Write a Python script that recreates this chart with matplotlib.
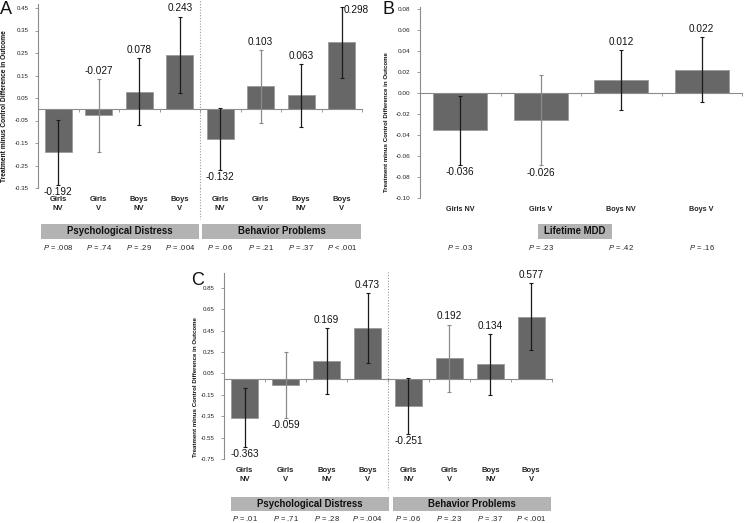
import matplotlib
matplotlib.use('Agg')
import matplotlib.pyplot as plt
from matplotlib.patches import Rectangle

plt.rcParams['font.family'] = ['Liberation Sans', 'DejaVu Sans']
plt.rcParams['mathtext.fontset'] = 'custom'
plt.rcParams['mathtext.it'] = 'Liberation Sans:italic'
plt.rcParams['mathtext.rm'] = 'Liberation Sans'

# ---------------- data ----------------
cats_two_line = ["Girls\nNV", "Girls\nV", "Boys\nNV", "Boys\nV"]
cats_one_line = ["Girls NV", "Girls V", "Boys NV", "Boys V"]
groups_ac = ["Psychological Distress", "Behavior Problems"]
groups_b = ["Lifetime MDD"]
ylabel = "Treatment minus Control Difference in Outcome"

a_values = [-0.192, -0.027, 0.078, 0.243, -0.132, 0.103, 0.063, 0.298]
a_err = [0.146, 0.162, 0.148, 0.169, 0.136, 0.162, 0.140, 0.158]
a_pvals = ["= .008", "= .74", "= .29", "= .004", "= .06", "= .21", "= .37", "< .001"]
a_yticks = [-0.35, -0.25, -0.15, -0.05, 0.05, 0.15, 0.25, 0.35, 0.45]

b_values = [-0.036, -0.026, 0.012, 0.022]
b_err = [0.0327, 0.0433, 0.0283, 0.0306]
b_pvals = ["= .03", "= .23", "= .42", "= .16"]
b_yticks = [-0.10, -0.08, -0.06, -0.04, -0.02, 0.00, 0.02, 0.04, 0.06, 0.08]

c_values = [-0.363, -0.059, 0.169, 0.473, -0.251, 0.192, 0.134, 0.577]
c_err = [0.275, 0.310, 0.306, 0.323, 0.260, 0.314, 0.287, 0.312]
c_pvals = ["= .01", "= .71", "= .28", "= .004", "= .06", "= .23", "= .37", "< .001"]
c_yticks = [-0.75, -0.55, -0.35, -0.15, 0.05, 0.25, 0.45, 0.65, 0.85]

# label placement / styling (not data)
a_lab = ['below', 'above', 'above', 'above', 'below', 'above', 'above', 'right']
b_lab = ['below', 'below', 'above', 'above']
c_lab = ['below', 'below', 'above', 'above', 'below', 'above', 'above', 'above']

W, H = 747, 523
fig = plt.figure(figsize=(W / 100, H / 100), dpi=100)

BAR = '#676767'
SPINE = '#8c8c8c'
BOX = '#b3b3b3'


def rect(l, t, r, b):
    return [l / W, 1 - b / H, (r - l) / W, (b - t) / H]


def panel(px, ylim, values, errs, labpos, cats, yticks, groups, group_spans,
          pvals, cat_y, box_y, p_y, divider, ylab_xy, ylab_size, letter, letter_xy,
          cat_size, tick_size):
    l, t, r, b = px
    ax = fig.add_axes(rect(l, t, r, b))
    n = len(values)
    xs = list(range(n))
    ax.bar(xs, values, width=0.67, color=BAR, edgecolor='#9a9a9a', linewidth=0.6, zorder=2)
    ecols = ['#8a8a8a' if c.startswith('Girls') and c.replace('\n', ' ').endswith(' V') else '#1a1a1a'
             for c in (cats * (n // len(cats)))]
    for x, v, e, ec in zip(xs, values, errs, ecols):
        ax.errorbar([x], [v], yerr=[e], fmt='none', ecolor=ec, elinewidth=0.9,
                    capsize=1.4, capthick=0.8, zorder=3, clip_on=False)
    for x, v, e, pos in zip(xs, values, errs, labpos):
        s = f"{v:.3f}"
        if pos == 'above':
            ax.annotate(s, (x, v + e), xytext=(0, 2.2), textcoords='offset points',
                        ha='center', va='bottom', fontsize=7.2, color='#111')
        elif pos == 'below':
            ax.annotate(s, (x, v - e), xytext=(0, -1.5), textcoords='offset points',
                        ha='center', va='top', fontsize=7.2, color='#111')
        else:
            ax.annotate(s, (x, v + e), xytext=(1.0, 1.5), textcoords='offset points',
                        ha='left', va='top', fontsize=7.2, color='#111')
    ax.set_xlim(-0.5, n - 0.5)
    ax.set_ylim(*ylim)
    ax.set_yticks(yticks)
    ax.set_yticklabels([f"{v:.2f}" for v in yticks])
    ax.tick_params(axis='y', length=2.5, width=0.6, color=SPINE, labelsize=tick_size,
                   labelcolor='#222', pad=4.5)
    ax.spines['bottom'].set_position(('data', 0))
    ax.set_xticks([k + 0.5 for k in range(-1, n)])
    ax.set_xticklabels([])
    ax.tick_params(axis='x', length=2.2, width=0.6, color=SPINE, direction='out')
    for s in ('top', 'right'):
        ax.spines[s].set_visible(False)
    for s in ('left', 'bottom'):
        ax.spines[s].set_color(SPINE)
        ax.spines[s].set_linewidth(0.8)
    ax.patch.set_alpha(0)

    # area under axes, in pixel units
    hu = 75
    au = fig.add_axes(rect(l, b, r, b + hu))
    au.set_xlim(-0.5, n - 0.5)
    au.set_ylim(hu, 0)
    au.axis('off')
    for i in range(n):
        au.text(i, cat_y, cats[i % len(cats)], ha='center', va='center', fontsize=cat_size,
                fontweight='bold', color='#222', linespacing=1.25)
        au.text(i, p_y, r"$P$ " + pvals[i], ha='center', va='center', fontsize=5.5, color='#222')
    for g, (x0, x1) in zip(groups, group_spans):
        au.add_patch(Rectangle((x0, box_y[0]), x1 - x0, box_y[1] - box_y[0],
                               facecolor=BOX, edgecolor='none'))
        au.text((x0 + x1) / 2, (box_y[0] + box_y[1]) / 2, g, ha='center', va='center',
                fontsize=6.9, fontweight='bold', color='#111')
    if divider is not None:
        xdiv, top_ext, bot_ext = divider
        ax.axvline(xdiv, ymin=0, ymax=1 + top_ext / (b - t), color='#9a9a9a',
                   linestyle=(0, (1, 1.5)), linewidth=0.8, clip_on=False)
        au.plot([xdiv, xdiv], [0, bot_ext], color='#9a9a9a', linestyle=(0, (1, 1.5)),
                linewidth=0.8)

    fig.text(ylab_xy[0] / W, 1 - ylab_xy[1] / H, ylabel, rotation=90, ha='center',
             va='center', fontsize=ylab_size, fontweight='bold', color='#111')
    fig.text(letter_xy[0] / W, 1 - letter_xy[1] / H, letter, ha='left', va='baseline',
             fontsize=13, color='#111')
    return ax


panel((38, 3.5, 362, 188), (-0.35, 0.47), a_values, a_err, a_lab, cats_two_line, a_yticks,
      groups_ac, [(-0.43, 3.47), (3.55, 7.48)], a_pvals, 16, (36, 51), 60,
      (3.5, 3.5, 31), (5, 106), 4.8, 'A', (0, 14), 5.5, 4.4)

panel((420, 6.6, 742, 197.7), (-0.10, 0.082), b_values, b_err, b_lab, cats_one_line, b_yticks,
      groups_b, [(0.96, 1.89)], b_pvals, 12.3, (26.3, 41.3), 50.3,
      None, (386, 122), 4.4, 'B', (382, 14), 5.2, 4.6)

panel((224.3, 273.1, 551.7, 459.3), (-0.75, 0.985), c_values, c_err, c_lab, cats_two_line, c_yticks,
      groups_ac, [(-0.34, 3.53), (3.62, 7.49)], c_pvals, 15.7, (37.4, 51.4), 59,
      (3.5, 3.3, 30.7), (195, 387), 4.4, 'C', (191, 285), 5.5, 4.4)

fig.savefig('out.png', dpi=100)
